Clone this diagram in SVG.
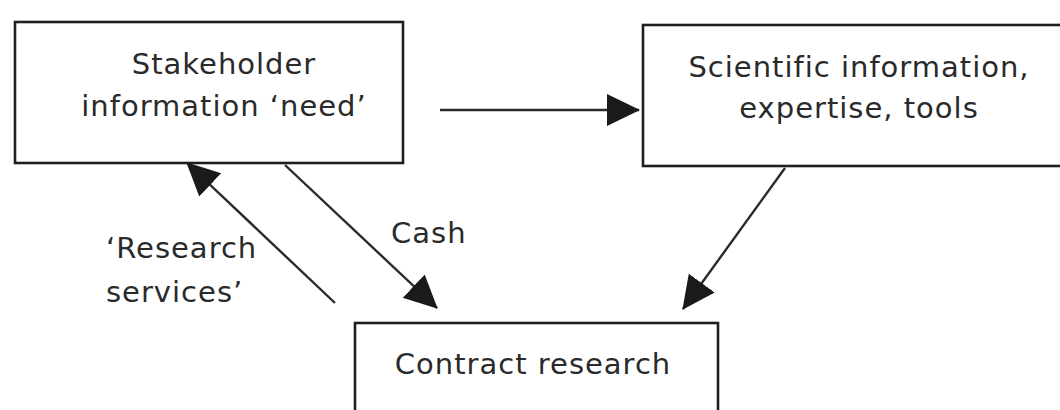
<svg xmlns="http://www.w3.org/2000/svg" width="1060" height="410" viewBox="0 0 1060 410">
  <style>
    .box { fill: #ffffff; stroke: #1e1e1e; stroke-width: 2.6; }
    .label { font-family: "DejaVu Sans", Verdana, sans-serif; font-size: 29px; letter-spacing: 1px; fill: #2a2a2a; }
    .mid { text-anchor: middle; }
    .edge { stroke: #2a2a2a; stroke-width: 2.4; fill: none; marker-end: url(#head); }
  </style>
  <defs>
    <marker id="head" markerUnits="userSpaceOnUse" markerWidth="34" markerHeight="34" viewBox="0 0 34 34" refX="32" refY="17" orient="auto">
      <path d="M0,1 L33,17 L0,33 Z" fill="#1a1a1a"/>
    </marker>
  </defs>
  <rect width="1060" height="410" fill="#ffffff"/>

  <g id="stakeholder">
    <rect class="box" x="15" y="22" width="388" height="141"/>
    <text class="label mid" x="224" y="74">Stakeholder</text>
    <text class="label mid" x="224" y="116">information ‘need’</text>
  </g>

  <g id="scientific">
    <rect class="box" x="643" y="25" width="430" height="141"/>
    <text class="label mid" x="859" y="77">Scientific information,</text>
    <text class="label mid" x="859" y="118">expertise, tools</text>
  </g>

  <g id="contract">
    <rect class="box" x="355" y="323" width="363" height="110"/>
    <text class="label mid" x="533" y="374">Contract research</text>
  </g>

  <g id="connectors">
    <line class="edge" x1="440" y1="110" x2="639" y2="110"/>
    <line class="edge" x1="285" y1="165" x2="437" y2="308"/>
    <line class="edge" x1="335" y1="303" x2="187" y2="163"/>
    <line class="edge" x1="785" y1="168" x2="683" y2="309"/>
    <text class="label" x="391" y="243">Cash</text>
    <text class="label" x="106" y="258">‘Research</text>
    <text class="label" x="106" y="302">services’</text>
  </g>
</svg>
